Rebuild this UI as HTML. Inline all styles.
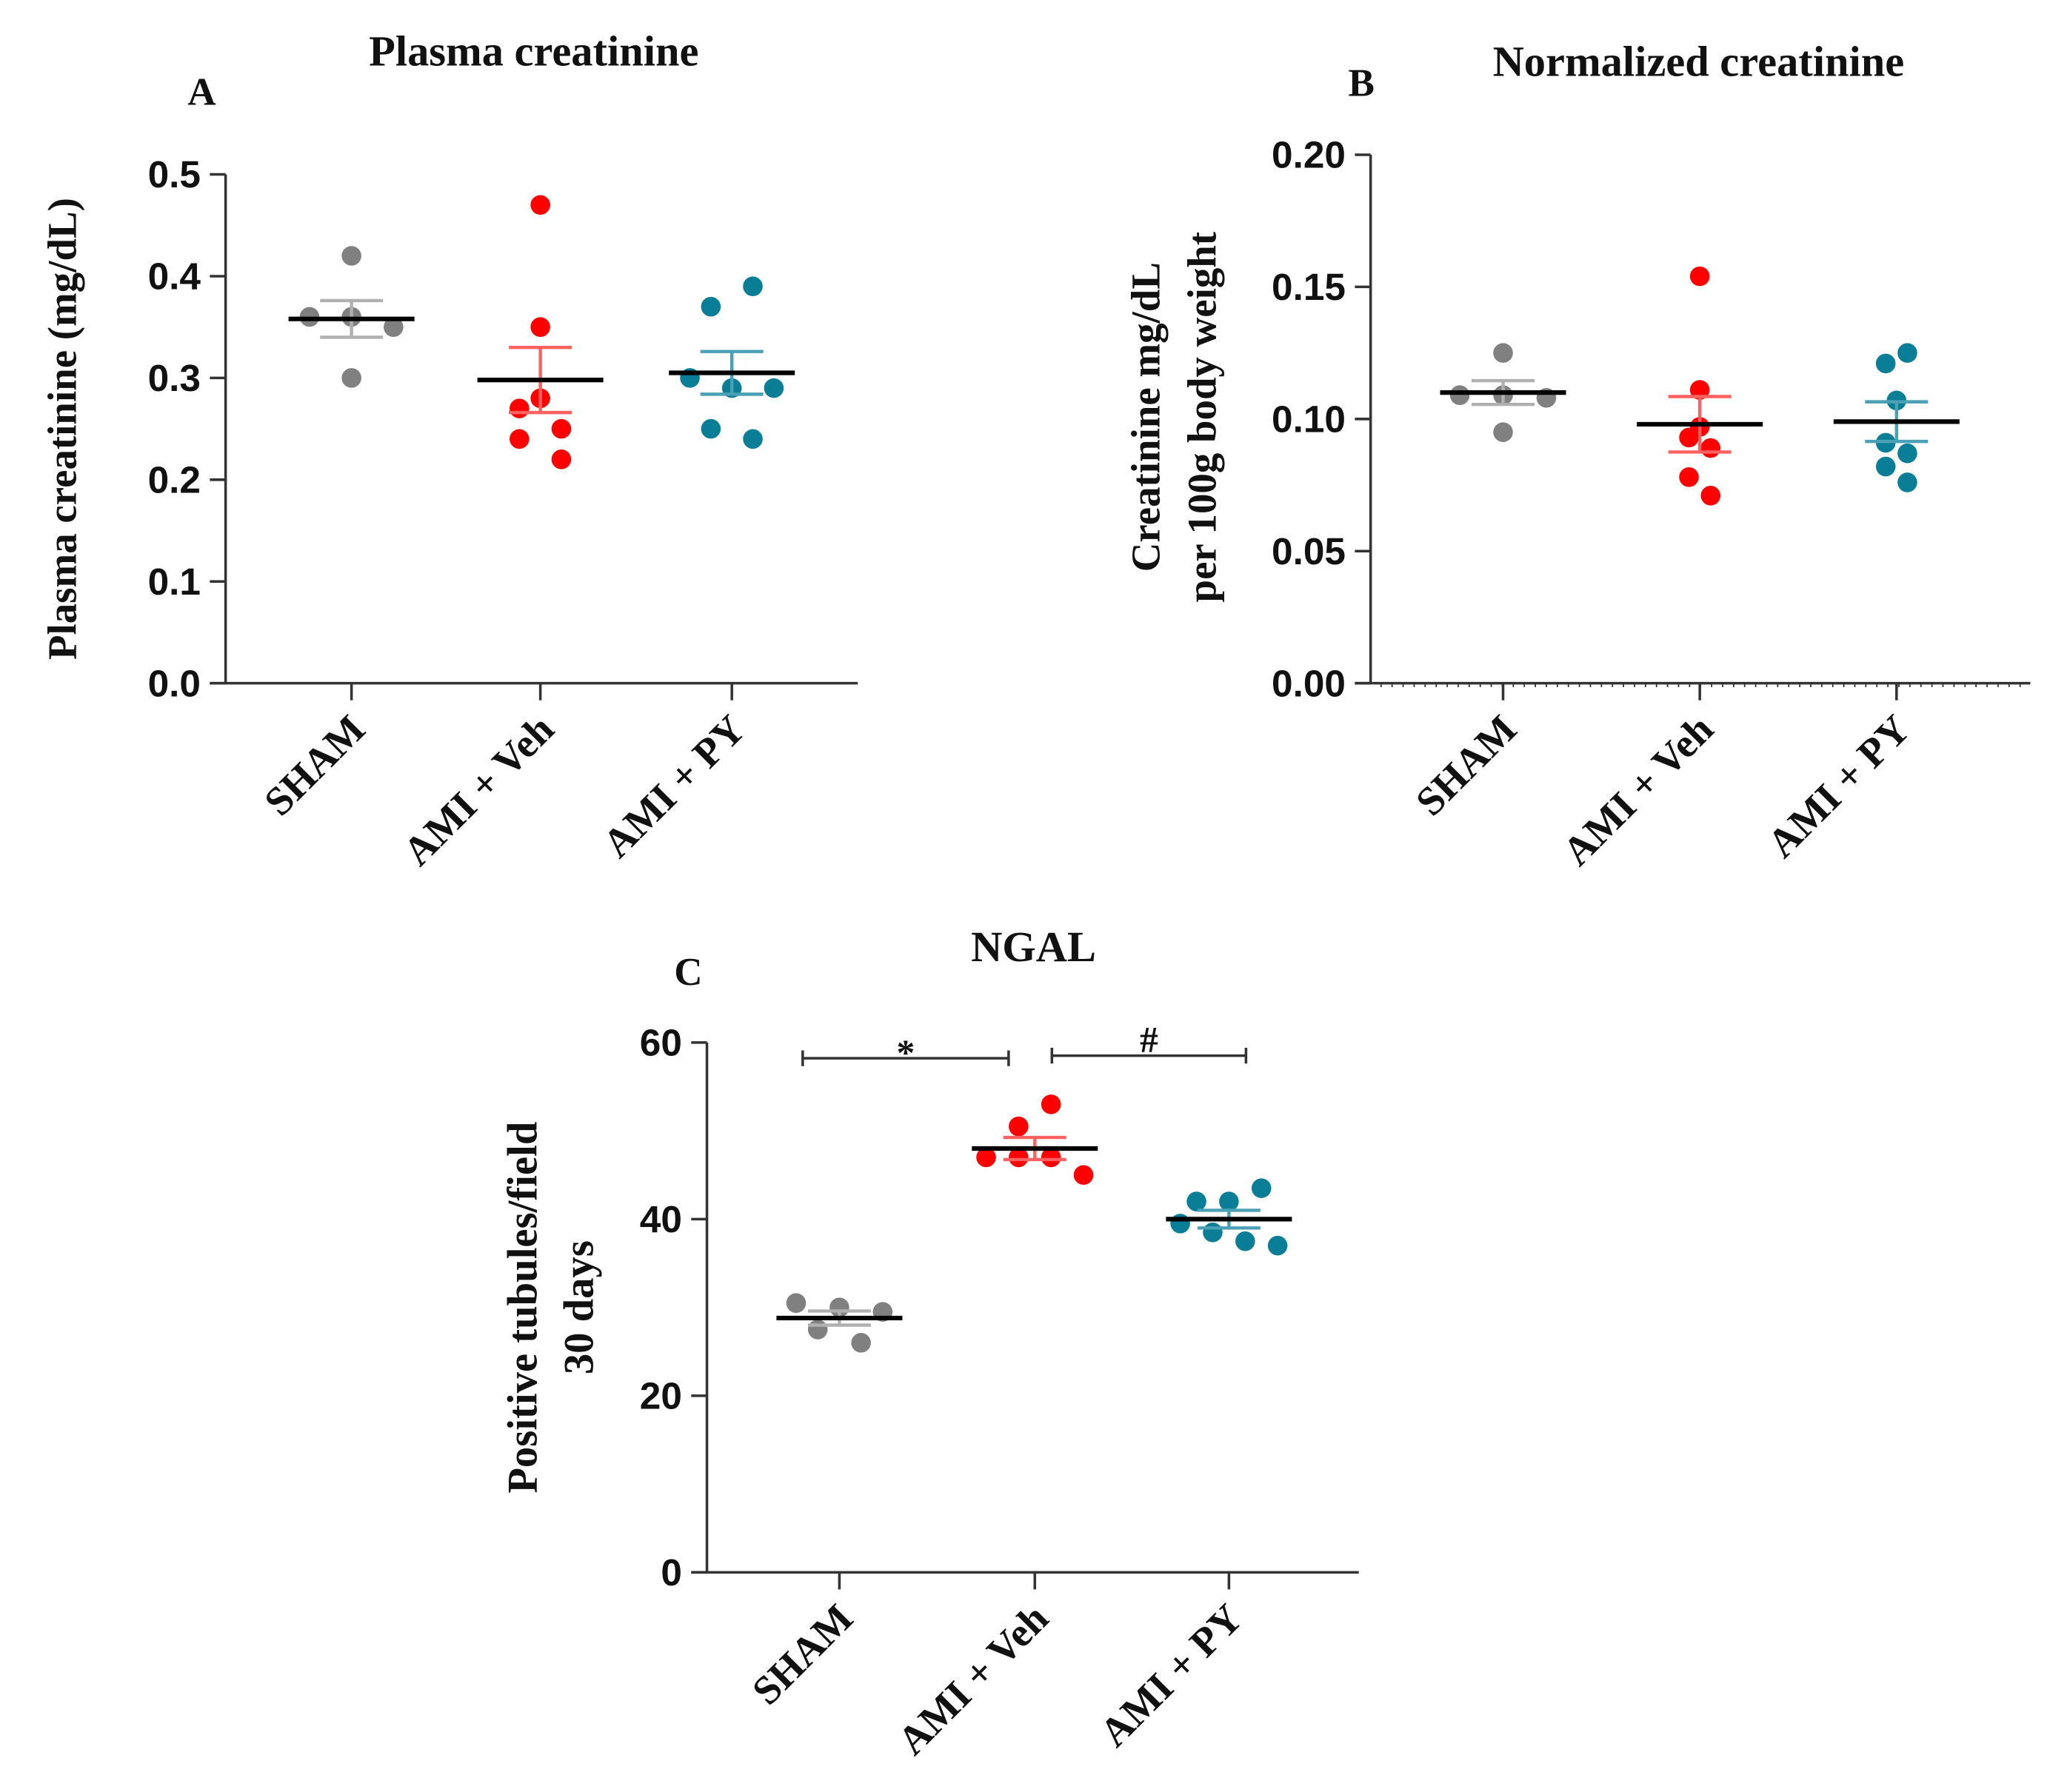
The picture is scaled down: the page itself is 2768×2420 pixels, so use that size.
<!DOCTYPE html>
<html><head><meta charset="utf-8"><style>html,body{margin:0;padding:0;background:#fff}svg{display:block}</style></head>
<body>
<svg id="fig" xmlns="http://www.w3.org/2000/svg" width="2768" height="2420" viewBox="0 0 1563 1366.5">
<rect width="1563" height="1366.5" fill="#fff"/>
</svg>
<script>
const groups = ["SHAM", "AMI + Veh", "AMI + PY"];
const colors = ["#808080", "#ff0000", "#0a7e96"];
const semColors = ["#b0b0b0", "#ff6060", "#4aa0b4"];
// Panel A
const aVals = [[0.36,0.42,0.36,0.35,0.30],[0.47,0.35,0.28,0.27,0.25,0.24,0.22],[0.37,0.39,0.30,0.29,0.29,0.25,0.24]];
const aJit = [[-1,0,0,1,0],[0,0,0,-0.5,0.5,-0.5,0.5],[-0.5,0.5,-1,0,1,-0.5,0.5]];
const aMean = [0.358, 0.298, 0.305];
const aSem = [0.018, 0.032, 0.021];
const aTicks = [0, 0.1, 0.2, 0.3, 0.4, 0.5];
const aTickLabels = ["0.0","0.1","0.2","0.3","0.4","0.5"];
// Panel B
const bVals = [[0.109,0.125,0.109,0.108,0.095],[0.154,0.111,0.097,0.093,0.089,0.078,0.071],[0.121,0.125,0.107,0.091,0.087,0.082,0.076]];
const bJit = [[-1,0,0,1,0],[0,0,0,-0.25,0.25,-0.25,0.25],[-0.25,0.25,0,-0.25,0.25,-0.25,0.25]];
const bMean = [0.110, 0.098, 0.099];
const bSem = [0.0045, 0.0105, 0.0075];
const bTicks = [0, 0.05, 0.10, 0.15, 0.20];
const bTickLabels = ["0.00","0.05","0.10","0.15","0.20"];
// Panel C
const cVals = [[30.5,30,29.5,27.5,26],[53,50.5,47,47,47,45],[43.5,42,42,39.5,38.5,37.5,37]];
const cJit = [[-1,0,1,-0.5,0.5],[0.375,-0.375,-1.125,-0.375,0.375,1.125],[0.75,-0.75,0,-1.125,-0.375,0.375,1.125]];
const cMean = [28.8, 48, 40];
const cSem = [0.8, 1.25, 1.0];
const cTicks = [0, 20, 40, 60];
const cTickLabels = ["0","20","40","60"];

const NS = "http://www.w3.org/2000/svg";
const svg = document.getElementById('fig');
function mk(tag, attrs, parent, txt) {
  const e = document.createElementNS(NS, tag);
  for (const k in attrs) e.setAttribute(k, attrs[k]);
  if (txt !== undefined) e.textContent = txt;
  (parent || svg).appendChild(e);
  return e;
}
const serif = '"Liberation Serif", serif';
const sans = '"Liberation Sans", sans-serif';

function panel(cfg) {
  const g = mk('g', {});
  
  
  const y = v => cfg.y0 - (v - cfg.min) / (cfg.max - cfg.min) * (cfg.y0 - cfg.y1);
  const x = i => cfg.cx[i];
  const ya = mk('line', {x1: cfg.ax, y1: y(cfg.max), x2: cfg.ax, y2: cfg.y0, stroke: '#333', 'stroke-width': 2}, g);
  
  
  const xa = mk('line', {x1: cfg.ax - 12, y1: cfg.y0, x2: cfg.xEnd, y2: cfg.y0, stroke: '#333', 'stroke-width': 2}, g);
  
  
  if (cfg.minor) {
    for (let xx = cfg.ax + 8; xx < cfg.xEnd; xx += 8.4) mk('line', {x1: xx, y1: cfg.y0, x2: xx, y2: cfg.y0 + 3, stroke: '#333', 'stroke-width': 1}, g);
  }
  cfg.ticks.forEach((t, i) => {
    mk('line', {x1: cfg.ax - 12, y1: y(t), x2: cfg.ax, y2: y(t), stroke: '#333', 'stroke-width': 2}, g);
    const tl = mk('text', {x: cfg.ax - 19, y: y(t) + 10, 'text-anchor': 'end', 'font-family': sans, 'font-weight': 'bold', 'font-size': 29, fill: '#111'}, g, cfg.tickLabels[i]);
    
    
  });
  groups.forEach((gn, i) => {
    mk('line', {x1: x(i), y1: cfg.y0, x2: x(i), y2: cfg.y0 + 13, stroke: '#333', 'stroke-width': 2}, g);
    const lx = x(i) + 12, ly = cfg.y0 + 37;
    const cl = mk('text', {x: lx, y: ly, 'text-anchor': 'end', transform: `rotate(-45 ${lx} ${ly})`, 'font-family': serif, 'font-weight': 'bold', 'font-size': 31, fill: '#111'}, g, gn);
    
    
    cfg.vals[i].forEach((v, j) => {
      const c = mk('circle', {cx: x(i) + cfg.jit[i][j] * cfg.jw, cy: y(v), r: 7.5, fill: colors[i]}, g);
      
      
    });
    const m = cfg.mean[i], s = cfg.sem[i];
    const eb = mk('g', {stroke: semColors[i], 'stroke-width': 2.5}, g);
    
    
    mk('line', {x1: x(i), y1: y(m + s), x2: x(i), y2: y(m - s)}, eb);
    mk('line', {x1: x(i) - 24, y1: y(m + s), x2: x(i) + 24, y2: y(m + s)}, eb);
    mk('line', {x1: x(i) - 24, y1: y(m - s), x2: x(i) + 24, y2: y(m - s)}, eb);
    const ml = mk('line', {x1: x(i) - 48, y1: y(m), x2: x(i) + 48, y2: y(m), stroke: '#000', 'stroke-width': 3.5}, g);
    
    
  });
  const t = mk('text', {x: cfg.titleX, y: cfg.titleY, 'text-anchor': 'middle', 'font-family': serif, 'font-weight': 'bold', 'font-size': 33, fill: '#111'}, g, cfg.title);
  
  
  const L = mk('text', {x: cfg.letterX, y: cfg.letterY, 'font-family': serif, 'font-weight': 'bold', 'font-size': 30, fill: '#111'}, g, cfg.letter);
  
  
  cfg.ylab.forEach((s, k) => {
    const yx = cfg.ylabX + k * 43, yy = cfg.ylabY;
    const yl = mk('text', {x: yx, y: yy, 'text-anchor': 'middle', transform: `rotate(-90 ${yx} ${yy})`, 'font-family': serif, 'font-weight': 'bold', 'font-size': cfg.ylabSize, fill: '#111'}, g, s);
    
    
  });
  return {g, y, x};
}

panel({name: 'panel-a', ax: 172, y0: 521, y1: 133, min: 0, max: 0.5, xEnd: 654, cx: [268, 412, 558], vals: aVals, jit: aJit, jw: 32, mean: aMean, sem: aSem, ticks: aTicks, tickLabels: aTickLabels, title: 'Plasma creatinine', titleX: 407, titleY: 50, letter: 'A', letterX: 143, letterY: 80, ylab: ['Plasma creatinine (mg/dL)'], ylabX: 58, ylabY: 327, ylabSize: 31});
panel({name: 'panel-b', ax: 1045, y0: 521, y1: 118, min: 0, max: 0.2, xEnd: 1548, minor: true, cx: [1146, 1296, 1446], vals: bVals, jit: bJit, jw: 33, mean: bMean, sem: bSem, ticks: bTicks, tickLabels: bTickLabels, title: 'Normalized creatinine', titleX: 1295, titleY: 58, letter: 'B', letterX: 1028, letterY: 73, ylab: ['Creatinine mg/dL', 'per 100g body weight'], ylabX: 884, ylabY: 318, ylabSize: 31});
panel({name: 'panel-c', ax: 539, y0: 1199, y1: 795, min: 0, max: 60, xEnd: 1036, cx: [640, 789, 937], vals: cVals, jit: cJit, jw: 33, mean: cMean, sem: cSem, ticks: cTicks, tickLabels: cTickLabels, title: 'NGAL', titleX: 788, titleY: 733, letter: 'C', letterX: 514, letterY: 751, ylab: ['Positive tubules/field', '30 days'], ylabX: 409, ylabY: 997, ylabSize: 32});

const brackets = [[612, 769, '*'], [802, 950, '#']];
const bY = [807, 805];
brackets.forEach((b, i) => {
  const bg = mk('g', {stroke: '#333', 'stroke-width': 2});
  
  
  mk('line', {x1: b[0], y1: bY[i], x2: b[1], y2: bY[i]}, bg);
  mk('line', {x1: b[0], y1: bY[i] - 6, x2: b[0], y2: bY[i] + 6}, bg);
  mk('line', {x1: b[1], y1: bY[i] - 6, x2: b[1], y2: bY[i] + 6}, bg);
  const st = mk('text', {x: (b[0] + b[1]) / 2, y: bY[i] - 3 + (b[2] === '*' ? 8 : 0), 'text-anchor': 'middle', 'font-family': serif, 'font-weight': 'bold', 'font-size': 28, fill: '#111'}, undefined, b[2]);
  
  
});
</script>
</body></html>
